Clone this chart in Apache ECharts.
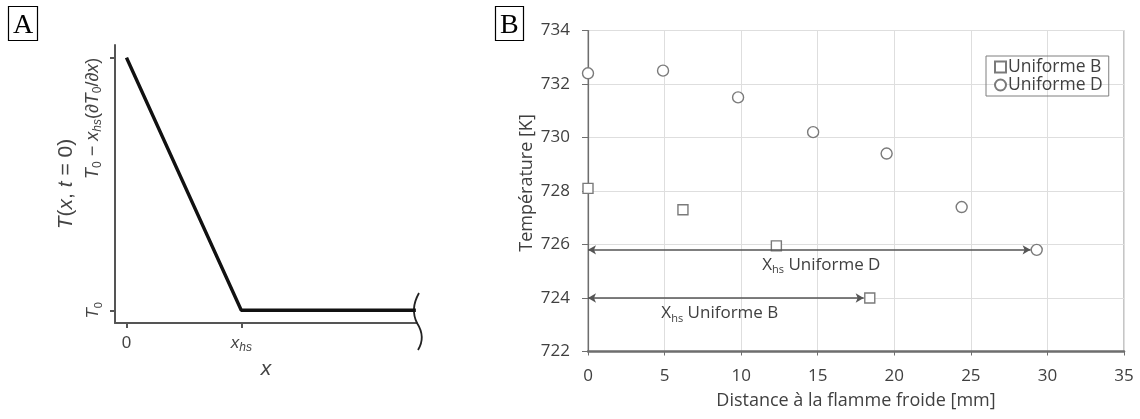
<!DOCTYPE html>
<html><head><meta charset="utf-8">
<script src="https://cdn.jsdelivr.net/npm/echarts@6/dist/echarts.min.js"></script>
<style>html,body{margin:0;padding:0;background:#fff}#c{width:1140px;height:419px}</style>
</head><body><div id="c"></div>
<script>
// ---------- Panel A : schematic initial temperature profile ----------
const panelLabels = ['A', 'B'];
const profileX = [0, 1, 2.52];        // 0, x_hs, end of domain
const profileY = [1, 0, 0];           // T0 - x_hs(dT0/dx), T0, T0
const profileTickX = [0, 1];
const profileTickY = [0, 1];
const braceAt = [2.53, -0.05];

// ---------- Panel B : measured temperatures ----------
const seriesNames = ['Uniforme B', 'Uniforme D'];
const distB = [0, 6.2, 12.3, 18.4];
const tempB = [728.1, 727.3, 725.95, 724.0];
const distD = [0, 4.9, 9.8, 14.7, 19.5, 24.4, 29.3];
const tempD = [732.4, 732.5, 731.5, 730.2, 729.4, 727.4, 725.8];
const xhsD = [0, 28.9, 725.8];   // from, to, level
const xhsB = [0, 18.0, 724.0];
const xTicksB = [0, 35, 5];
const yTicksB = [722, 734, 2];

const zip = (a, b) => a.map((v, i) => [v, b[i]]);

const fA = 'Liberation Sans';
const fB = 'Open Sans';
const cA = '#444';
const cB = '#404040';

const richA = {
  n: {fontFamily: fA, fontSize: 17, color: cA, lineHeight: 22, verticalAlign: 'middle'},
  i: {fontFamily: fA, fontSize: 17, color: cA, fontStyle: 'italic', lineHeight: 22, verticalAlign: 'middle'},
  s: {fontFamily: fA, fontSize: 11, color: cA, lineHeight: 12, verticalAlign: 'bottom'},
  si: {fontFamily: fA, fontSize: 12, color: cA, fontStyle: 'italic', lineHeight: 12, verticalAlign: 'bottom'}
};
const richTop = {
  n: {fontFamily: fA, fontSize: 18, color: cA, lineHeight: 22, verticalAlign: 'middle'},
  i: {fontFamily: fA, fontSize: 18, color: cA, fontStyle: 'italic', lineHeight: 22, verticalAlign: 'middle'},
  s: {fontFamily: fA, fontSize: 12, color: cA, lineHeight: 12, verticalAlign: 'bottom'},
  si: {fontFamily: fA, fontSize: 12, color: cA, fontStyle: 'italic', lineHeight: 12, verticalAlign: 'bottom'}
};
const richName = {
  n: {fontFamily: fA, fontSize: 21, color: cA},
  i: {fontFamily: fA, fontSize: 21, color: cA, fontStyle: 'italic'}
};
const richB = {
  a: {fontFamily: fB, fontSize: 17, color: cB, lineHeight: 22, verticalAlign: 'middle'},
  s: {fontFamily: fB, fontSize: 11, color: cB, lineHeight: 12, verticalAlign: 'bottom'}
};

const chart = echarts.init(document.getElementById('c'));
chart.setOption({
  animation: false,
  backgroundColor: '#fff',
  title: panelLabels.map((t, i) => ({
    text: t, left: [8, 495][i], top: 6,
    padding: [4, 5, 0, 5], borderColor: '#000', borderWidth: 1.2,
    textStyle: {fontFamily: 'Liberation Serif', fontWeight: 'normal', fontSize: 28, color: '#000', lineHeight: 31}
  })),
  legend: {
    data: seriesNames, orient: 'vertical', left: 986, top: 56,
    padding: [2, 6, 2, 8], itemGap: 0, itemWidth: 11, itemHeight: 11,
    borderColor: '#7f7f7f', borderWidth: 1,
    textStyle: {fontFamily: fB, fontSize: 17.5, color: cB, padding: [0, 0, 0, -3]}
  },
  grid: [
    {left: 115, top: 45, width: 302, height: 278},
    {left: 588, top: 30.5, width: 536, height: 321, show: true, borderColor: '#8c8c8c', borderWidth: 1}
  ],
  xAxis: [
    {
      gridIndex: 0, type: 'value', min: -0.1, max: 2.53,
      splitLine: {show: false},
      axisLine: {onZero: false, lineStyle: {color: '#555', width: 2}},
      axisTick: {customValues: profileTickX, length: 5, lineStyle: {color: '#555', width: 2}},
      axisLabel: {customValues: profileTickX, margin: 9, rich: richA,
        formatter: v => v === 0 ? '{n|0}' : '{i|x}{si|hs}'},
      name: '{i|x}', nameLocation: 'middle', nameGap: 34,
      nameTextStyle: {rich: richName}
    },
    {
      gridIndex: 1, type: 'value', min: xTicksB[0], max: xTicksB[1], interval: xTicksB[2],
      splitLine: {show: true, lineStyle: {color: '#dedede', width: 1}},
      axisLine: {lineStyle: {color: '#6e6e6e', width: 2.5}},
      axisTick: {show: true, length: 4, lineStyle: {color: '#6e6e6e', width: 1}},
      axisLabel: {fontFamily: fB, fontSize: 17, color: cB, margin: 16},
      name: 'Distance à la flamme froide [mm]', nameLocation: 'middle', nameGap: 40,
      nameTextStyle: {fontFamily: fB, fontSize: 18, color: cB}
    }
  ],
  yAxis: [
    {
      gridIndex: 0, type: 'value', min: -0.05, max: 1.05, position: 'left',
      splitLine: {show: false},
      axisLine: {onZero: false, lineStyle: {color: '#555', width: 2}},
      axisTick: {customValues: profileTickY, length: 5, lineStyle: {color: '#555', width: 2}},
      axisLabel: {customValues: [0], rotate: 90, margin: 11, rich: richA,
        formatter: () => '{i|T}{s|0}'},
      name: '{i|T}{n|(}{i|x}{n|, }{i|t}{n| = 0)}', nameLocation: 'middle', nameGap: 38,
      nameTextStyle: {rich: richName}
    },
    {
      gridIndex: 0, type: 'value', min: -0.05, max: 1.05, position: 'left',
      splitLine: {show: false}, axisLine: {show: false, onZero: false}, axisTick: {show: false},
      axisLabel: {customValues: [1], rotate: 90, margin: 11, align: 'right', rich: richTop,
        formatter: () => '{i|T}{s|0}{n| − }{i|x}{si|hs}{n|(∂}{i|T}{s|0}{n|/∂}{i|x}{n|)}'}
    },
    {
      gridIndex: 1, type: 'value', min: yTicksB[0], max: yTicksB[1], interval: yTicksB[2],
      splitLine: {show: true, lineStyle: {color: '#dedede', width: 1}},
      axisLine: {show: true, lineStyle: {color: '#6e6e6e', width: 1.2}},
      axisTick: {show: true, length: 6, lineStyle: {color: '#6e6e6e', width: 1}},
      axisLabel: {fontFamily: fB, fontSize: 17, color: cB, margin: 18},
      name: 'Température [K]', nameLocation: 'middle', nameGap: 52,
      nameTextStyle: {fontFamily: fB, fontSize: 18, color: cB, padding: [0, 0, 0, 16]}
    }
  ],
  series: [
    {
      type: 'line', xAxisIndex: 0, yAxisIndex: 0, data: zip(profileX, profileY),
      symbol: 'none', lineStyle: {color: '#111', width: 3.5}, silent: true
    },
    {
      type: 'custom', xAxisIndex: 0, yAxisIndex: 0, data: [braceAt], clip: false, silent: true,
      renderItem: (params, api) => {
        const p = api.coord([api.value(0), api.value(1)]);
        const x = p[0], y = p[1];
        return {
          type: 'path',
          shape: {pathData: `M${x + 2},${y - 30} Q${x - 7},${y - 14} ${x},${y} Q${x + 9},${y + 14} ${x + 1},${y + 27}`},
          style: {stroke: '#222', lineWidth: 1.8, fill: null}
        };
      }
    },
    {
      name: 'arrows', type: 'scatter', xAxisIndex: 1, yAxisIndex: 2, data: [], z: 1,
      markLine: {
        silent: true, symbol: ['arrow', 'arrow'], symbolSize: [7, 8], animation: false,
        lineStyle: {color: '#555', width: 1.5, type: 'solid'},
        label: {show: true, position: 'insideMiddleBottom', distance: 4, rich: richB},
        data: [
          [{coord: [xhsD[0], xhsD[2]], label: {formatter: '{a|X}{s|hs}{a| Uniforme D}', offset: [12, 0]}},
           {coord: [xhsD[1], xhsD[2]]}],
          [{coord: [xhsB[0], xhsB[2]], label: {formatter: '{a|X}{s|hs}{a| Uniforme B}', offset: [-6, 0]}},
           {coord: [xhsB[1], xhsB[2]]}]
        ]
      }
    },
    {
      name: seriesNames[0], type: 'scatter', xAxisIndex: 1, yAxisIndex: 2, z: 3,
      data: zip(distB, tempB), symbol: 'rect', symbolSize: 10,
      itemStyle: {color: '#fff', borderColor: '#7a7a7a', borderWidth: 1.4, opacity: 1}
    },
    {
      name: seriesNames[1], type: 'scatter', xAxisIndex: 1, yAxisIndex: 2, z: 3,
      data: zip(distD, tempD), symbol: 'circle', symbolSize: 11,
      itemStyle: {color: '#fff', borderColor: '#7a7a7a', borderWidth: 1.4, opacity: 1}
    }
  ]
});
</script>
</body></html>
